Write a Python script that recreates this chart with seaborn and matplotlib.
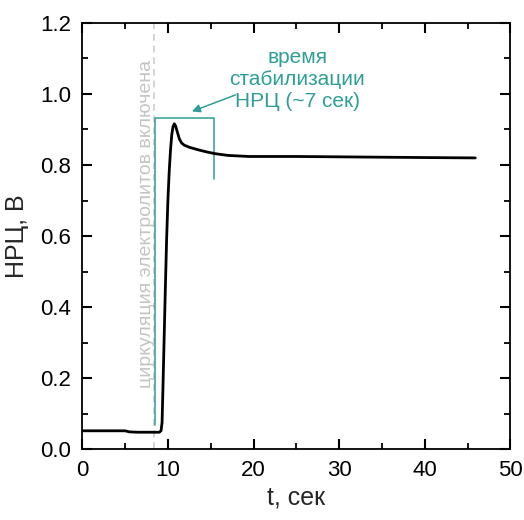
import numpy as np
import pandas as pd
import matplotlib
matplotlib.use("Agg")
import matplotlib.pyplot as plt
from matplotlib.ticker import MultipleLocator, FormatStrFormatter
import seaborn as sns

# time (s) and open-circuit voltage (V)
t_sec = [0, 2, 4, 5, 5.5, 6.5, 8, 9.0, 9.2, 9.32, 9.42, 9.55, 9.7, 9.85, 10.0,
         10.15, 10.3, 10.45, 10.6, 10.75, 10.9, 11.1, 11.35, 11.6, 11.9, 12.5,
         13.5, 14.5, 15.5, 17.0, 19.5, 25, 30, 35, 40, 45.9]
ocv = [0.052, 0.052, 0.052, 0.052, 0.049, 0.048, 0.048, 0.048, 0.052, 0.075, 0.17,
       0.30, 0.45, 0.59, 0.70, 0.78, 0.84, 0.885, 0.908, 0.916, 0.910, 0.893,
       0.873, 0.862, 0.856, 0.850, 0.843, 0.837, 0.832, 0.827, 0.824, 0.824,
       0.823, 0.822, 0.821, 0.820]

flow_on_t = 8.4
box_t = [8.5, 8.5, 15.4, 15.4]
box_v = [0.067, 0.933, 0.933, 0.76]

teal = "#2e9e96"

sns.set_style("ticks")
plt.rcParams["font.family"] = ["Liberation Sans", "DejaVu Sans"]

df = pd.DataFrame({"t": t_sec, "v": ocv})

fig = plt.figure(figsize=(5.24, 5.20), dpi=100)
ax = fig.add_axes([0.157, 0.136, 0.817, 0.820])

ax.axvline(flow_on_t, color="#cccccc", lw=1.2, ls=(0, (4, 3)), zorder=1)
ax.text(7.55, 0.635, "циркуляция электролитов включена", rotation=90,
        color="#c4c4c4", fontsize=14, ha="center", va="center")

ax.plot(box_t, box_v, color=teal, lw=1.1, zorder=2)
sns.lineplot(data=df, x="t", y="v", ax=ax, color="black", lw=2.0, zorder=3)

ax.annotate("", xy=(12.5, 0.948), xytext=(18.2, 1.0),
            arrowprops=dict(arrowstyle="-|>", color=teal, lw=1.1, mutation_scale=12))
ax.text(25.1, 1.04, "время\nстабилизации\nНРЦ (~7 сек)", color=teal,
        fontsize=15, ha="center", va="center", linespacing=1.2)

ax.set_xlim(0, 50)
ax.set_ylim(0, 1.2)
ax.xaxis.set_major_locator(MultipleLocator(10))
ax.xaxis.set_minor_locator(MultipleLocator(5))
ax.yaxis.set_major_locator(MultipleLocator(0.2))
ax.yaxis.set_minor_locator(MultipleLocator(0.1))
ax.yaxis.set_major_formatter(FormatStrFormatter("%.1f"))

for s in ax.spines.values():
    s.set_linewidth(1.3)
    s.set_color("black")

ax.set_xlabel("t, сек", fontsize=18, labelpad=3)
ax.set_ylabel("НРЦ, В", fontsize=18, labelpad=8)

# ticks on all four sides, pointing inward
ax.tick_params(which="both", direction="in", top=True, right=True,
               color="black", labelcolor="black", labelsize=16, pad=8)
ax.tick_params(which="major", length=7, width=1.5)
ax.tick_params(which="minor", length=4, width=1.3)

fig.savefig("out.png", dpi=100)
